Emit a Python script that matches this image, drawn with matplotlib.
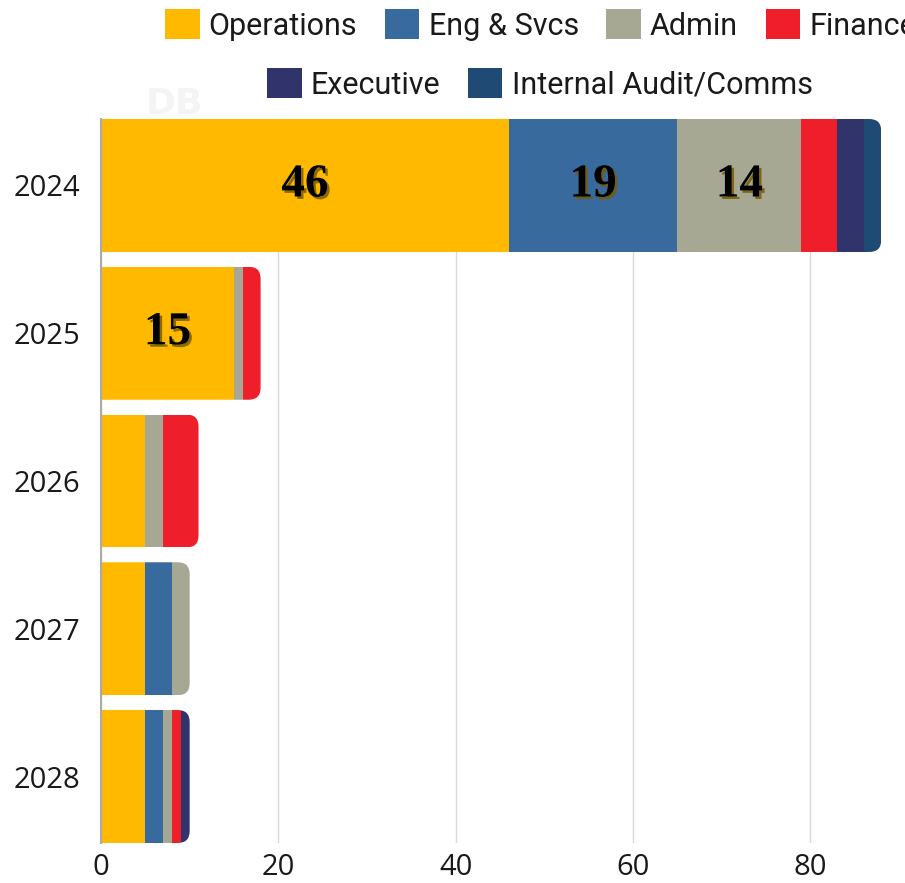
import matplotlib
matplotlib.use("Agg")
import matplotlib.pyplot as plt
from matplotlib.patches import FancyBboxPatch, Patch
import matplotlib.patheffects as pe
import numpy as np

years = ["2024", "2025", "2026", "2027", "2028"]
departments = ["Operations", "Eng & Svcs", "Admin", "Finance", "Executive", "Internal Audit/Comms"]
colors = ["#FFBA00", "#386A9E", "#A6A893", "#EE1F2B", "#31336B", "#1F4A73"]

operations = [46, 15, 5, 5, 5]
eng_svcs = [19, 0, 0, 3, 2]
admin = [14, 1, 2, 2, 1]
finance = [4, 2, 4, 0, 1]
executive = [3, 0, 0, 0, 1]
internal_audit = [2, 0, 0, 0, 0]

series = [operations, eng_svcs, admin, finance, executive, internal_audit]
label_min = 10  # only annotate segments at least this large

W, H = 905, 883
fig = plt.figure(figsize=(W / 100, H / 100), dpi=100)
ax = fig.add_axes([101 / W, 1 - 843 / H, (899 - 101) / W, (843 - 119) / H])

y = np.arange(len(years))
bar_h = 0.9
ax.set_xlim(0, 90)
ax.set_ylim(len(years) - 1 + bar_h / 2, -bar_h / 2)

# aspect of data units (y per x) on screen, used for rounded bar ends
fig.canvas.draw()
px_per_x = ax.transData.transform((1, 0))[0] - ax.transData.transform((0, 0))[0]
px_per_y = abs(ax.transData.transform((0, 1))[1] - ax.transData.transform((0, 0))[1])
aspect = px_per_x / px_per_y
radius_x = 12 / px_per_x

totals = np.sum(np.array(series), axis=0)
for i in range(len(years)):
    clip = FancyBboxPatch((-10, y[i] - bar_h / 2), totals[i] + 10, bar_h,
                          boxstyle=f"round,pad=0,rounding_size={radius_x}",
                          mutation_aspect=aspect, transform=ax.transData,
                          facecolor="none", edgecolor="none")
    ax.add_patch(clip)
    left = 0
    for k, vals in enumerate(series):
        v = vals[i]
        if v <= 0:
            continue
        bars = ax.barh(y[i], v, left=left, height=bar_h, color=colors[k],
                       edgecolor="none", zorder=3)
        for b in bars:
            b.set_clip_path(clip)
        if v >= label_min:
            t = ax.text(left + v / 2, y[i], str(v), ha="center", va="center",
                        fontsize=34, fontweight="bold", family="Liberation Serif",
                        color="black", zorder=5)
            t.set_path_effects([pe.SimplePatchShadow(offset=(1.8, -1.8), shadow_rgbFace="#7a5a00", alpha=0.85),
                                pe.Normal()])
        left += v

ax.set_yticks(y)
ax.set_yticklabels(years)
ax.set_xticks([0, 20, 40, 60, 80])
ax.tick_params(axis="both", length=0, labelsize=21, colors="#1a1a1a")
ax.tick_params(axis="x", pad=7)
ax.tick_params(axis="y", pad=15)
for lab in ax.get_xticklabels() + ax.get_yticklabels():
    lab.set_family("Open Sans")

ax.grid(axis="x", color="#d9d9d9", linewidth=1, zorder=0)
ax.set_axisbelow(True)
for s in ["top", "right", "bottom"]:
    ax.spines[s].set_visible(False)
ax.spines["left"].set_color("#aaaaaa")
ax.spines["left"].set_linewidth(1.5)
ax.spines["left"].set_zorder(6)

# faint watermark above the plot
fig.text(146 / W, 1 - 104 / H, "DB", fontsize=26, fontweight="bold", color="#f4f4f4",
         va="center", ha="left", family="DejaVu Sans")

handles = [Patch(facecolor=c, edgecolor="none") for c in colors]
leg_kw = dict(frameon=False, handlelength=1.13, handleheight=1.13,
              handletextpad=0.3, columnspacing=0.9, borderpad=0, borderaxespad=0,
              prop={"family": ["Roboto", "DejaVu Sans"], "size": 22}, labelcolor="#1a1a1a")
leg1 = fig.legend(handles[:4], departments[:4], ncol=4, loc="center left",
                  bbox_to_anchor=(165 / W, 1 - 25 / H), **leg_kw)
leg2 = fig.legend(handles[4:], departments[4:], ncol=2, loc="center left",
                  bbox_to_anchor=(267 / W, 1 - 84 / H), **leg_kw)

fig.savefig("out.png", dpi=100)
